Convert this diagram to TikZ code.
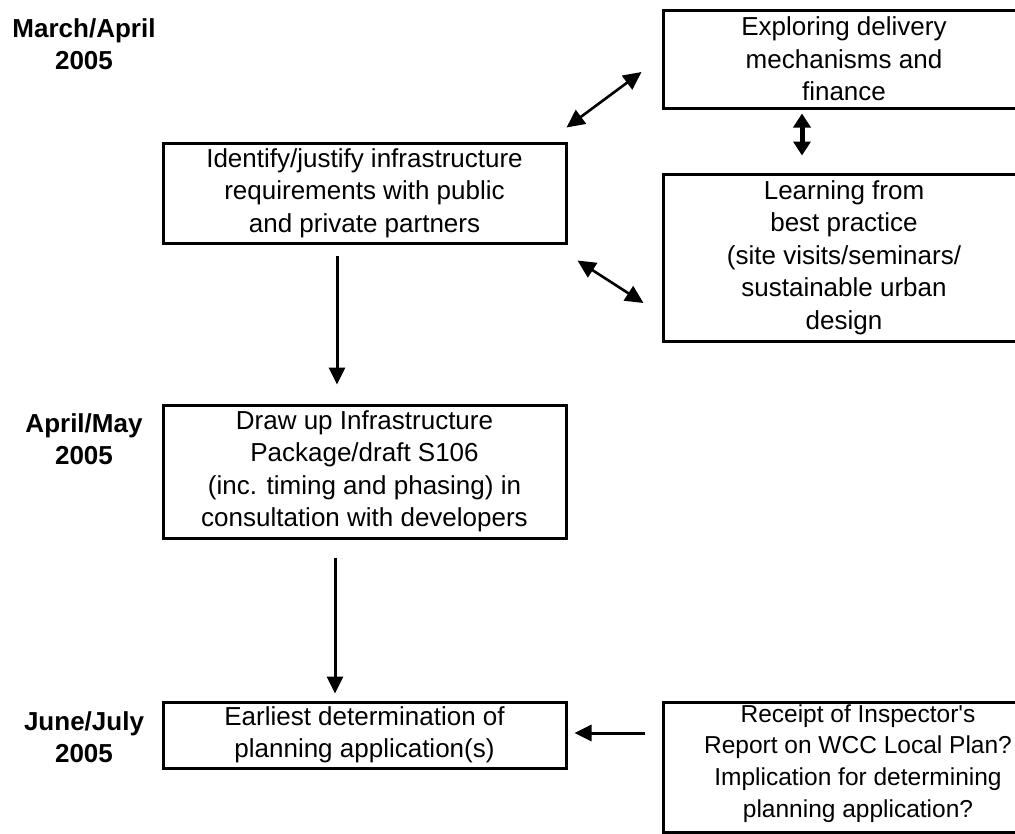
\documentclass[tikz,border=0pt]{standalone}
\usepackage{fontspec}
\setmainfont{Liberation Sans}
\usetikzlibrary{arrows.meta}
\begin{document}
\begin{tikzpicture}[x=1pt,y=-1pt,
  box/.style={draw=black, line width=3pt, rectangle, align=center, inner sep=0pt,
    font=\fontsize{26}{32.5}\selectfont},
  datelbl/.style={align=center, inner sep=0pt, font=\fontsize{26}{32}\selectfont\bfseries},
  arr/.style={-{Triangle[length=17pt,width=16pt]}, line width=3pt},
  darr/.style={{Triangle[length=18pt,width=17pt]}-{Triangle[length=18pt,width=17pt]}, line width=2.6pt},
  varr/.style={{Triangle[length=14pt,width=17pt]}-{Triangle[length=14pt,width=17pt]}, line width=5pt}]
\useasboundingbox (0,0) rectangle (1015,833);

% date labels
\node[datelbl] (d1) at (84,44) {March/April\\2005};
\node[datelbl] (d2) at (84,439) {April/May\\2005};
\node[datelbl] (d3) at (84,737) {June/July\\2005};

% boxes
\node[box, minimum width=362pt, minimum height=98pt] (A) at (844,59)
  {Exploring delivery\\mechanisms and\\finance};
\node[box, minimum width=362pt, minimum height=167pt] (L) at (844,257.5)
  {Learning from\\best practice\\(site visits/seminars/\\sustainable urban\\design};
\node[box, minimum width=403pt, minimum height=100pt] (I) at (364.5,193)
  {Identify/justify infrastructure\\requirements with public\\and private partners};
\node[box, minimum width=403pt, minimum height=133pt] (D) at (364.5,471.5)
  {Draw up Infrastructure\\Package/draft S106\\(inc. timing and phasing) in\\consultation with developers};
\node[box, minimum width=403pt, minimum height=66pt] (E) at (364.5,735)
  {Earliest determination of\\planning application(s)};
\node[box, minimum width=406pt, minimum height=130pt] (R) at (866,767) {};
\node[align=center, inner sep=0pt, font=\fontsize{24.5}{31.7}\selectfont] (Rt) at (858,763.5)
  {Receipt of Inspector\textquotesingle s\\Report on WCC Local Plan?\\Implication for determining\\planning application?};

% connectors
\coordinate (Etip) at ([xshift=7pt,yshift=2pt]E.east);
\draw[darr] ([xshift=-1pt,yshift=14pt]I.north east) -- ([xshift=-20pt,yshift=-13pt]A.west);
\draw[darr] ([xshift=10pt,yshift=-16pt]I.south east) -- ([xshift=-18pt,yshift=-45.5pt]L.west);
\draw[varr] ([xshift=-42pt,yshift=-4pt]A.south) -- ([xshift=-42pt,yshift=17pt]L.north);
\draw[arr] ([xshift=-27.5pt,yshift=-11pt]I.south) -- ([xshift=-27.5pt,yshift=19pt]D.north);
\draw[arr] ([xshift=-29.5pt,yshift=-18pt]D.south) -- ([xshift=-29.5pt,yshift=7pt]E.north);
\draw[arr] ([xshift=-17pt]R.west |- Etip) -- (Etip);
\end{tikzpicture}
\end{document}
